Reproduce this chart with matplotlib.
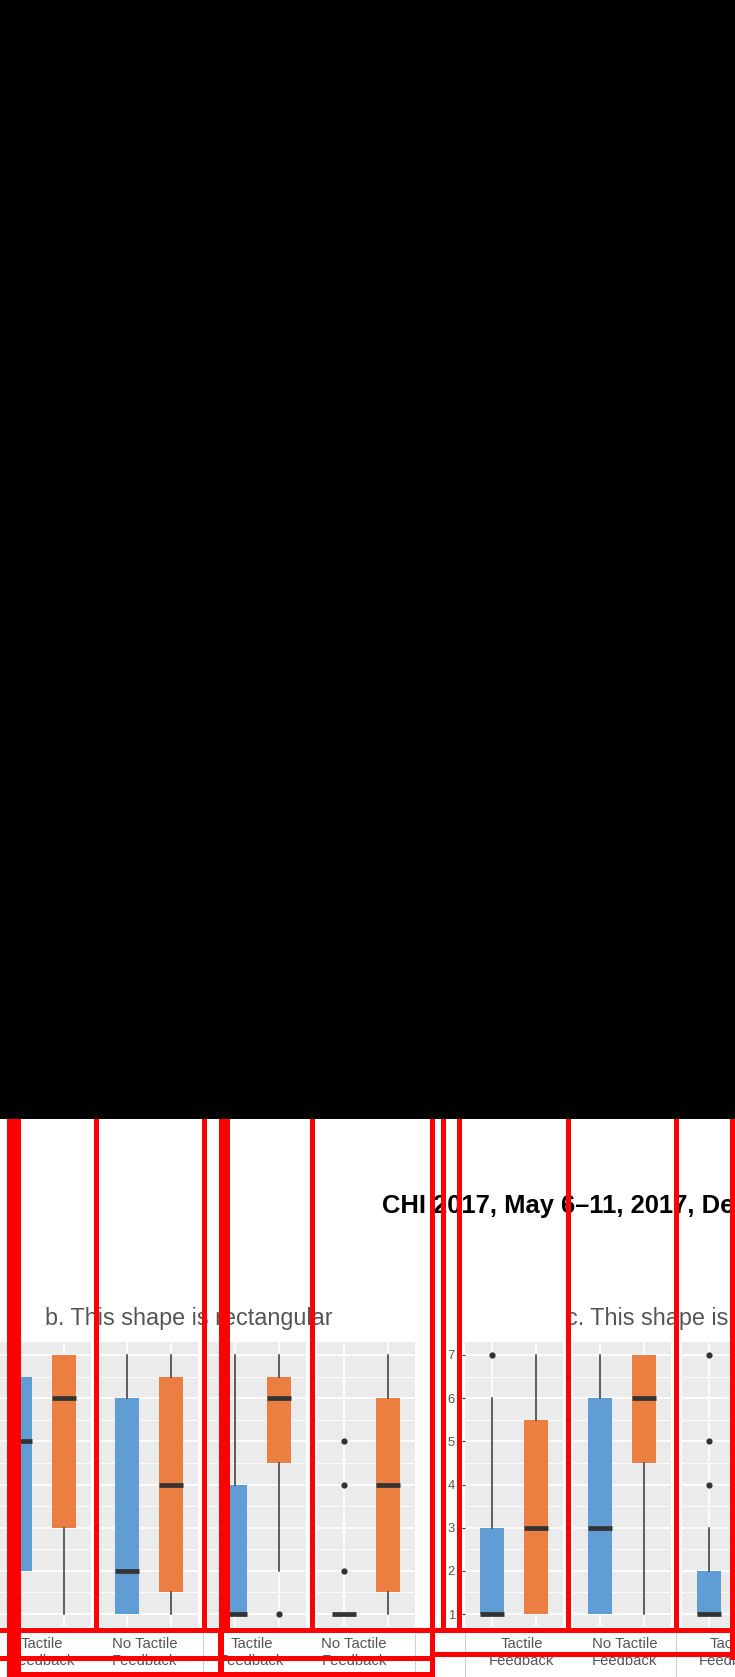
import numpy as np
import matplotlib
matplotlib.use("Agg")
import matplotlib.pyplot as plt
from matplotlib.patches import Rectangle

plt.rcParams["font.family"] = ["Liberation Sans", "DejaVu Sans"]

# page header and facet titles
header = "CHI 2017, May 6\u201311, 2017, Denver, CO, USA"
group_titles = ["b. This shape is rectangular", "c. This shape is"]
strip_labels = ["Tactile\nFeedback", "No Tactile\nFeedback", "Tactile\nFeedback", "No Tactile\nFeedback",
                "Tactile\nFeedback", "No Tactile\nFeedback", "Tactile\nFeedback"]
y_ticks = [1, 2, 3, 4, 5, 6, 7]

# box stats per panel (blue series)
blue_whislo = [1, 1, 1, 1, 1, 1, 1]
blue_q1 = [2, 1, 1, 1, 1, 1, 1]
blue_med = [5, 2, 1, 1, 1, 3, 1]
blue_q3 = [6.5, 6, 4, 1, 3, 6, 2]
blue_whishi = [7, 7, 7, 1, 6, 7, 3]
blue_fliers = [[], [], [], [5, 4, 2], [7], [], [7, 5, 4]]

# box stats per panel (orange series); last one is off the page
orange_whislo = [1, 1, 2, 1, 1, 1, None]
orange_q1 = [3, 1.5, 4.5, 1.5, 1, 4.5, None]
orange_med = [6, 4, 6, 4, 3, 6, None]
orange_q3 = [7, 6.5, 6.5, 6, 5.5, 7, None]
orange_whishi = [7, 7, 7, 7, 7, 7, None]
orange_fliers = [[], [], [1], [], [], [], None]

BLUE = "#5f9dd4"
ORANGE = "#eb7f42"
DARK = "#333333"
TXT = "#555555"

W, H = 735, 1677
fig = plt.figure(figsize=(W / 100, H / 100), dpi=100)


def fx(x):
    return x / W


def fy(y):
    return 1 - y / H


panel_left = [-7, 100, 208, 317, 465, 573, 682]
panel_w = 98
top, bottom = 1342, 1627


def stat(lo, q1, med, q3, hi, fl):
    return dict(whislo=lo, q1=q1, med=med, q3=q3, whishi=hi, fliers=fl)


for i, x0 in enumerate(panel_left):
    ax = fig.add_axes([fx(x0), fy(bottom), panel_w / W, (bottom - top) / H])
    ax.set_facecolor("#ebebeb")
    stats = [stat(blue_whislo[i], blue_q1[i], blue_med[i], blue_q3[i], blue_whishi[i], blue_fliers[i])]
    pos = [1]
    colors = [BLUE]
    if orange_med[i] is not None:
        stats.append(stat(orange_whislo[i], orange_q1[i], orange_med[i], orange_q3[i],
                          orange_whishi[i], orange_fliers[i]))
        pos.append(2)
        colors.append(ORANGE)
    bp = ax.bxp(stats, positions=pos, widths=0.53, patch_artist=True, showcaps=False,
                boxprops=dict(linewidth=0),
                medianprops=dict(color=DARK, linewidth=3.4, solid_capstyle="butt"),
                whiskerprops=dict(color=DARK, linewidth=1.1),
                flierprops=dict(marker="o", markerfacecolor=DARK, markeredgecolor="none", markersize=4.5),
                zorder=3)
    for patch, c in zip(bp["boxes"], colors):
        patch.set_facecolor(c)
        patch.set_edgecolor(c)
    ax.set_xlim(0.4, 2.6)
    ax.set_ylim(0.7, 7.3)
    ax.set_xticks([1, 2])
    ax.set_xticklabels([])
    ax.set_yticks(y_ticks)
    ax.set_yticks(np.arange(1.5, 7, 1), minor=True)
    ax.grid(which="major", color="white", linewidth=1.2)
    ax.grid(which="minor", axis="y", color="white", linewidth=0.6)
    ax.set_axisbelow(True)
    for s in ax.spines.values():
        s.set_visible(False)
    ax.tick_params(axis="x", length=0)
    ax.tick_params(axis="y", which="minor", length=0)
    if i == 4:
        ax.tick_params(axis="y", length=2.2, width=0.8, color=DARK, pad=5, labelsize=9.4, labelcolor=TXT)
    else:
        # the left group's y axis lies off the page
        ax.tick_params(axis="y", length=0, labelleft=False)

# strip labels under the panels
label_x = [42, 144.5, 251.5, 354, 521.5, 624.5, 731]
for x, lab in zip(label_x, strip_labels):
    fig.text(fx(x), fy(1637.5), lab, ha="center", va="top", fontsize=10.7, color=TXT,
             linespacing=1.27)

# light strip borders
for x in [203, 415, 465, 676]:
    fig.add_artist(plt.Line2D([fx(x), fx(x)], [fy(1628), fy(1677)], color="#d0d0d0", lw=0.8))

# facet group titles
fig.text(fx(45), fy(1325), group_titles[0], ha="left", va="baseline", fontsize=16.8, color=TXT)
fig.text(fx(566), fy(1325), group_titles[1], ha="left", va="baseline", fontsize=16.8, color=TXT)

# page header
fig.text(fx(382), fy(1213), header, ha="left", va="baseline", fontsize=18.4, fontweight="bold",
         color="black")

# redacted top of page
fig.add_artist(Rectangle((0, fy(1119)), 1, 1119 / H, transform=fig.transFigure,
                         facecolor="black", edgecolor="none", zorder=20))

# red region outlines
red_v = [(7, 21, 1119, 1677), (94, 99, 1119, 1633), (202, 207, 1119, 1633), (219, 230, 1119, 1633),
         (218, 224, 1633, 1677), (310, 315, 1119, 1633), (430, 435, 1119, 1677), (441, 446, 1119, 1633),
         (457, 462, 1119, 1633), (566, 571, 1119, 1633), (674, 679, 1119, 1633), (730, 735, 1119, 1660)]
red_h = [(0, 735, 1628, 1633), (0, 432, 1656, 1661), (434, 735, 1652, 1657), (13, 435, 1672, 1677)]
for x0, x1, y0, y1 in red_v + red_h:
    fig.add_artist(Rectangle((fx(x0), fy(y1)), (x1 - x0) / W, (y1 - y0) / H, transform=fig.transFigure,
                             facecolor="red", edgecolor="none", zorder=15))

fig.savefig("out.png", dpi=100)
